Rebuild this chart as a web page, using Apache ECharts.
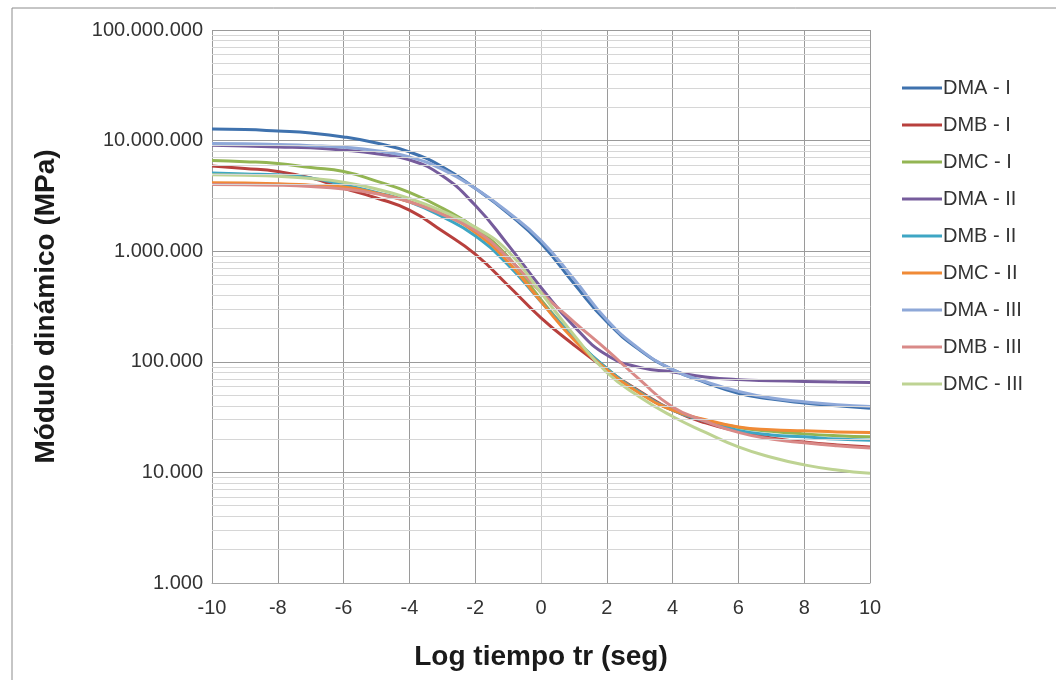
<!DOCTYPE html>
<html>
<head>
<meta charset="utf-8">
<script src="https://cdn.jsdelivr.net/npm/echarts@6/dist/echarts.min.js"></script>
<style>
  html, body { margin: 0; padding: 0; background: #fff; }
  #chart { width: 1056px; height: 680px; }
</style>
</head>
<body>
<div id="chart"></div>
<script>
// log tiempo tr (seg)
const logTime = [-10, -9, -8, -7, -6, -5, -4, -3, -2, -1, 0, 1, 2, 3, 4, 5, 6, 7, 8, 9, 10]

// módulo dinámico (MPa)
const dmaI = [12700000, 12600000, 12200000, 11700000, 10800000, 9500000, 7900000, 5800000, 3700000, 2200000, 1180000, 510000, 230000, 128000, 85000, 65000, 52000, 46000, 42500, 40000, 38000]
const dmbI = [5900000, 5600000, 5250000, 4600000, 3700000, 3030000, 2350000, 1520000, 940000, 490000, 250000, 142000, 85000, 54000, 36500, 28000, 23500, 20500, 18800, 17700, 17000]
const dmcI = [6600000, 6450000, 6200000, 5700000, 5250000, 4300000, 3400000, 2450000, 1620000, 890000, 365000, 166000, 87000, 53000, 36500, 29500, 25500, 23500, 22300, 21500, 21000]
const dmaII = [9100000, 8950000, 8750000, 8600000, 8200000, 7600000, 6700000, 4800000, 2600000, 1140000, 470000, 210000, 115000, 89000, 81000, 73000, 69000, 67500, 66500, 65500, 65000]
const dmbII = [5100000, 5000000, 4900000, 4600000, 4000000, 3400000, 2800000, 2050000, 1380000, 750000, 350000, 165000, 87000, 53000, 36500, 29000, 24000, 21800, 21000, 20000, 19500]
const dmcII = [4150000, 4130000, 4080000, 3950000, 3800000, 3350000, 2800000, 2180000, 1480000, 800000, 350000, 158000, 85000, 52000, 36500, 30000, 25700, 24300, 23800, 23200, 23000]
const dmaIII = [9400000, 9350000, 9200000, 9000000, 8700000, 8100000, 7100000, 5500000, 3700000, 2250000, 1250000, 560000, 240000, 130000, 85000, 66000, 54000, 47000, 43500, 41000, 39500]
const dmbIII = [4000000, 3980000, 3950000, 3850000, 3650000, 3300000, 2800000, 2150000, 1550000, 870000, 425000, 230000, 128000, 69000, 39000, 29000, 23000, 20000, 18500, 17400, 16600]
const dmcIII = [4900000, 4850000, 4750000, 4550000, 4200000, 3650000, 3000000, 2300000, 1650000, 1000000, 420000, 175000, 80000, 48000, 32000, 23000, 17000, 13700, 11700, 10500, 9800]

const seriesNames = ['DMA - I', 'DMB - I', 'DMC - I', 'DMA - II', 'DMB - II', 'DMC - II', 'DMA - III', 'DMB - III', 'DMC - III']
const seriesData = [dmaI, dmbI, dmcI, dmaII, dmbII, dmcII, dmaIII, dmbIII, dmcIII]
const colors = ['#3f72ae', '#b8403d', '#93b553', '#765c9c', '#3ea6c4', '#f08a36', '#8ea8d8', '#d98a88', '#bed393']

// decades of the y axis, minor grid lines at 2..9 x each decade
const decades = [1000, 10000, 100000, 1000000, 10000000]
const minorSteps = [2, 3, 4, 5, 6, 7, 8, 9]

const FONT = 'Liberation Sans, Arial, sans-serif'

function dotted(v) {
  return String(Math.round(v)).replace(/\B(?=(\d{3})+(?!\d))/g, '.')
}

let minorLines = []
decades.forEach(d => {
  minorSteps.forEach(m => {
    minorLines.push({ yAxis: d * m })
  })
})

let series = seriesNames.map((name, i) => {
  return {
    name: name,
    type: 'line',
    smooth: true,
    symbol: 'none',
    z: 3,
    data: logTime.map((t, j) => [t, seriesData[i][j]]),
    lineStyle: { width: 3, color: colors[i] },
    itemStyle: { color: colors[i] }
  }
})

// helper series that only carries the minor grid lines
series.unshift({
  name: 'minor',
  type: 'line',
  data: [],
  z: 1,
  silent: true,
  markLine: {
    silent: true,
    symbol: 'none',
    animation: false,
    label: { show: false },
    lineStyle: { color: '#d6d6d6', width: 1, type: 'solid' },
    data: minorLines
  }
})

const chart = echarts.init(document.getElementById('chart'))
chart.setOption({
  animation: false,
  color: colors,
  grid: { left: 212, right: 186, top: 30, bottom: 97 },
  graphic: [{
    type: 'rect',
    shape: { x: 12, y: 8, width: 1100, height: 700 },
    style: { fill: 'none', stroke: '#8c8c8c', lineWidth: 1 },
    silent: true
  }],
  legend: {
    data: seriesNames,
    orient: 'vertical',
    left: 897,
    top: 73,
    icon: 'rect',
    itemWidth: 40,
    itemHeight: 3,
    itemGap: 17,
    textStyle: { fontFamily: FONT, fontSize: 20, color: '#333', padding: [0, 0, 0, -4] }
  },
  xAxis: {
    type: 'value',
    min: -10,
    max: 10,
    interval: 2,
    name: 'Log tiempo tr (seg)',
    nameLocation: 'middle',
    nameGap: 60,
    nameTextStyle: { fontFamily: FONT, fontSize: 28, fontWeight: 'bold', color: '#1a1a1a' },
    axisLine: { lineStyle: { color: '#a6a6a6' } },
    axisTick: { show: false },
    axisLabel: { fontFamily: FONT, fontSize: 20, color: '#333', margin: 15 },
    splitLine: { show: true, lineStyle: { color: '#9a9a9a', width: 1 } }
  },
  yAxis: {
    type: 'log',
    logBase: 10,
    min: 1000,
    max: 100000000,
    name: 'Módulo dinámico (MPa)',
    nameLocation: 'middle',
    nameGap: 152,
    nameTextStyle: { fontFamily: FONT, fontSize: 28, fontWeight: 'bold', color: '#1a1a1a' },
    axisLine: { show: true, lineStyle: { color: '#c8c8c8' } },
    axisTick: { show: false },
    axisLabel: { fontFamily: FONT, fontSize: 20, color: '#333', margin: 9, formatter: dotted },
    splitLine: { show: true, lineStyle: { color: '#9a9a9a', width: 1 } }
  },
  series: series
})
</script>
</body>
</html>
